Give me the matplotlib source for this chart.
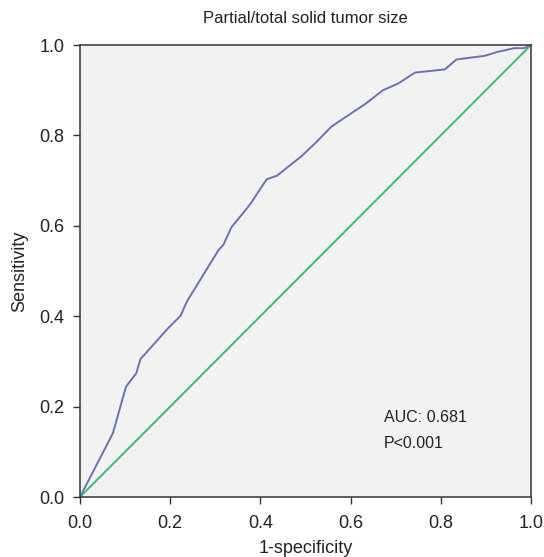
import matplotlib
matplotlib.use("Agg")
import matplotlib.pyplot as plt

plt.rcParams['font.family'] = ['Liberation Sans', 'DejaVu Sans']

# ROC curve
fpr = [0.0, 0.073, 0.102, 0.125, 0.134, 0.195, 0.223, 0.238, 0.307, 0.318,
       0.336, 0.373, 0.381, 0.414, 0.437, 0.490, 0.522, 0.557, 0.588, 0.632,
       0.672, 0.706, 0.743, 0.809, 0.835, 0.897, 0.927, 0.963, 0.985, 1.0]
tpr = [0.0, 0.141, 0.244, 0.274, 0.305, 0.373, 0.401, 0.434, 0.546, 0.558,
       0.597, 0.642, 0.653, 0.703, 0.711, 0.753, 0.783, 0.819, 0.840, 0.869,
       0.900, 0.915, 0.939, 0.946, 0.968, 0.976, 0.985, 0.993, 0.993, 1.0]
ref = [0.0, 1.0]
ticks = [0.0, 0.2, 0.4, 0.6, 0.8, 1.0]

fig = plt.figure(figsize=(5.44, 5.57), dpi=100)
ax = fig.add_axes([0.147, 0.1077, 0.829, 0.8115])
ax.set_facecolor("#f2f2f2")

ax.plot(fpr, tpr, color="#6a72b2", lw=1.4)
ax.plot(ref, ref, color="#3cb87a", lw=1.4)

ax.set_xlim(0, 1)
ax.set_ylim(0, 1)
ax.set_xticks(ticks)
ax.set_yticks(ticks)
ax.set_xticklabels([f"{t:.1f}" for t in ticks])
ax.set_yticklabels([f"{t:.1f}" for t in ticks])
ax.tick_params(direction="out", length=5, width=1, color="#333333",
               labelsize=13, labelcolor="#222222")
ax.tick_params(axis="x", pad=8)
ax.tick_params(axis="y", pad=6)
for s in ax.spines.values():
    s.set_color("#333333")
    s.set_linewidth(1.1)

ax.set_xlabel("1-specificity", fontsize=13, color="#222222", labelpad=6)
ax.set_ylabel("Sensitivity", fontsize=13, color="#222222", labelpad=8)
ax.set_title("Partial/total solid tumor size", fontsize=12, color="#222222", pad=16)

ax.text(0.674, 0.175, "AUC: 0.681", fontsize=11.5, color="#222222", va="center")
ax.text(0.674, 0.119, "P<0.001", fontsize=11.5, color="#222222", va="center")

fig.savefig("out.png", dpi=100)
